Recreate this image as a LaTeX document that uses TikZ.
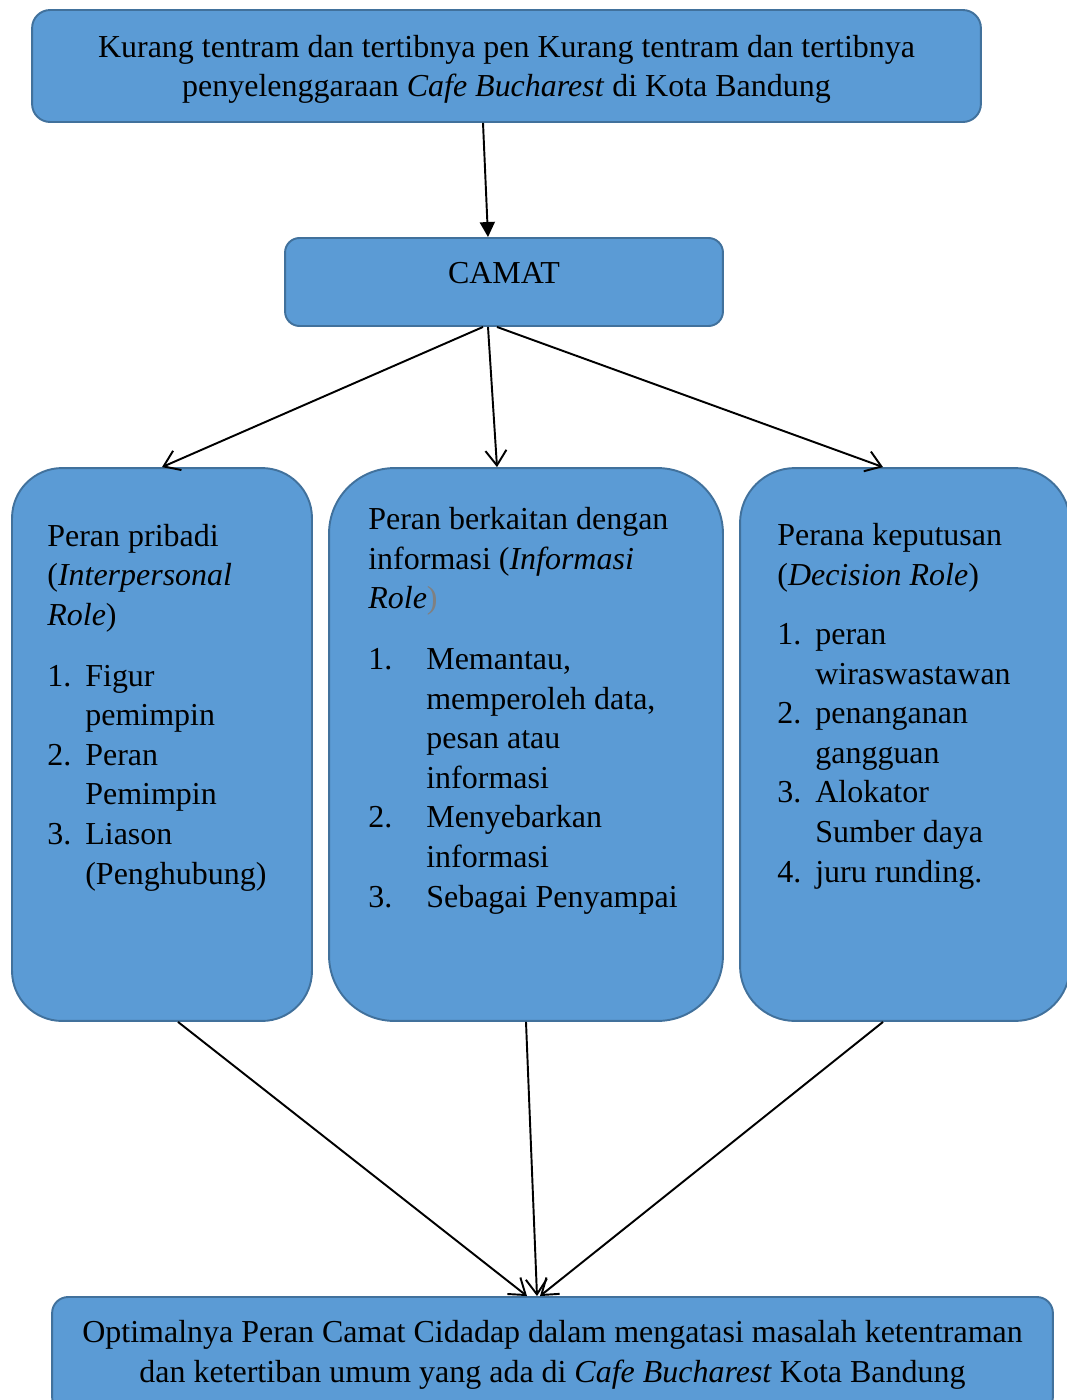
\documentclass[tikz,border=0pt]{standalone}
\usepackage{fontspec}
\setmainfont{Liberation Serif}
\usetikzlibrary{arrows.meta}
\definecolor{boxfill}{HTML}{5B9BD5}
\definecolor{boxline}{HTML}{41719C}
\newcommand{\nr}[1]{\makebox[0.76cm][l]{#1}}
\newcommand{\nrw}[1]{\makebox[1.16cm][l]{#1}}
\begin{document}
\begin{tikzpicture}[x=0.02cm,y=-0.02cm,font=\fontsize{18.2}{22.5}\selectfont,
    box/.style={draw=boxline,fill=boxfill,line width=1.1pt,inner sep=0pt},
    txt/.style={align=left,anchor=base west,inner sep=0pt},
    link/.style={line width=1.1pt,-{Straight Barb[length=0.3cm,width=0.42cm]}}]
	\useasboundingbox (0,0) rectangle (1067,1400);
	\node[box,rounded corners=0.36cm,minimum width=18.98cm,minimum height=2.24cm,align=center] (masalah) at (506.5,66) {\rule{0pt}{0.58cm}Kurang tentram dan tertibnya pen Kurang tentram dan tertibnya\\penyelenggaraan \textit{Cafe Bucharest} di Kota Bandung};
	\node[box,rounded corners=0.29cm,minimum width=8.76cm,minimum height=1.76cm,text depth=0.38cm] (camat) at (504,282) {CAMAT};
	\node[box,rounded corners=1cm,minimum width=6cm,minimum height=11.06cm] (pribadi) at (162,744.5) {};
	\node[box,rounded corners=1.31cm,minimum width=7.88cm,minimum height=11.06cm] (informasi) at (526,744.5) {};
	\node[box,rounded corners=1.1cm,minimum width=6.6cm,minimum height=11.06cm] (keputusan) at (905,744.5) {};
	\node[box,rounded corners=0.32cm,minimum width=20.02cm,minimum height=2.32cm,align=center] (optimal) at (552.5,1355) {Optimalnya Peran Camat Cidadap dalam mengatasi masalah ketentraman\\dan ketertiban umum yang ada di \textit{Cafe Bucharest} Kota Bandung};
	\node[txt] (pribadi-teks) at (47,884) {Peran pribadi\\(\textit{Interpersonal}\\\textit{Role})\\[0.43cm]\nr{1.}Figur\\\nr{}pemimpin\\\nr{2.}Peran\\\nr{}Pemimpin\\\nr{3.}Liason\\\nr{}(Penghubung)};
	\node[txt] (informasi-teks) at (368,907) {Peran berkaitan dengan\\informasi (\textit{Informasi}\\\textit{Role}\textcolor{gray}{)}\\[0.43cm]\nrw{1.}Memantau,\\\nrw{}memperoleh data,\\\nrw{}pesan atau\\\nrw{}informasi\\\nrw{2.}Menyebarkan\\\nrw{}informasi\\\nrw{3.}Sebagai Penyampai};
	\node[txt] (keputusan-teks) at (777,882) {Perana keputusan\\(\textit{Decision Role})\\[0.4cm]\nr{1.}peran\\\nr{}wiraswastawan\\\nr{2.}penanganan\\\nr{}gangguan\\\nr{3.}Alokator\\\nr{}Sumber daya\\\nr{4.}juru runding.};
	\draw[line width=1.1pt,-{Triangle[length=0.3cm,width=0.3cm]}] ([xshift=-0.47cm]masalah.south) -- ([xshift=-0.32cm]camat.north);
	\draw[link] ([xshift=-0.42cm]camat.south) -- (pribadi.north);
	\draw[link] ([xshift=-0.32cm]camat.south) -- ([xshift=-0.58cm]informasi.north);
	\draw[link] ([xshift=-0.14cm]camat.south) -- ([xshift=-0.44cm]keputusan.north);
	\draw[link] ([xshift=0.32cm]pribadi.south) -- ([xshift=-0.51cm]optimal.north);
	\draw[link] (informasi.south) -- ([xshift=-0.31cm]optimal.north);
	\draw[link] ([xshift=-0.44cm]keputusan.south) -- ([xshift=-0.25cm]optimal.north);
\end{tikzpicture}
\end{document}
